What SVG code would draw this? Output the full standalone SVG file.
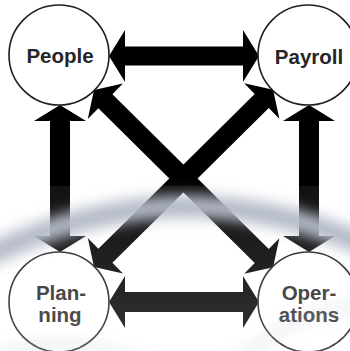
<svg xmlns="http://www.w3.org/2000/svg" width="350" height="351" viewBox="0 0 350 351">
  <defs>
    <style>
      .node circle { fill: #ffffff; stroke: #1e1e1e; stroke-width: 1.6; }
      .node text { font-family: "Liberation Sans", Arial, sans-serif; font-weight: bold; font-size: 20.5px; fill: #262626; text-anchor: middle; }
      .arrow { fill: #000000; }
      .swoosh { fill: none; stroke: #b4bac8; filter: url(#soft); }
    </style>
    <filter id="soft" x="-20%" y="-50%" width="140%" height="200%">
      <feGaussianBlur stdDeviation="7"/>
    </filter>
    <linearGradient id="haze" x1="0" y1="186" x2="0" y2="351" gradientUnits="userSpaceOnUse">
      <stop offset="0" stop-color="#ffffff" stop-opacity="0.07"/>
      <stop offset="1" stop-color="#ffffff" stop-opacity="0.2"/>
    </linearGradient>
    <linearGradient id="bandFade" x1="0" y1="0" x2="350" y2="0" gradientUnits="userSpaceOnUse">
      <stop offset="0" stop-color="#a9b0c2" stop-opacity="0.32"/>
      <stop offset="0.38" stop-color="#a9b0c2" stop-opacity="0.2"/>
      <stop offset="0.52" stop-color="#ffffff" stop-opacity="0.2"/>
      <stop offset="0.66" stop-color="#a9b0c2" stop-opacity="0.22"/>
      <stop offset="1" stop-color="#a9b0c2" stop-opacity="0.32"/>
    </linearGradient>
  </defs>

  <rect width="350" height="351" fill="#ffffff"/>

  <!-- double-headed connectors -->
  <g id="connectors">
    <!-- People <-> Payroll -->
    <path class="arrow" transform="translate(109,56)" d="M0 0 L16 -26 L16 -9.5 L134 -9.5 L134 -26 L150 0 L134 26 L134 9.5 L16 9.5 L16 26 Z"/>
    <!-- Planning <-> Operations -->
    <path class="arrow" transform="translate(109,302)" d="M0 0 L16 -26 L16 -10 L134 -10 L134 -26 L150 0 L134 26 L134 10 L16 10 L16 26 Z"/>
    <!-- People <-> Planning -->
    <path class="arrow" transform="translate(60,105) rotate(90)" d="M0 0 L16 -26 L16 -10 L131 -10 L131 -26 L147 0 L131 26 L131 10 L16 10 L16 26 Z"/>
    <!-- Payroll <-> Operations -->
    <path class="arrow" transform="translate(309,105) rotate(90)" d="M0 0 L16 -26 L16 -10 L131 -10 L131 -26 L147 0 L131 26 L131 10 L16 10 L16 26 Z"/>
    <!-- People <-> Operations -->
    <path class="arrow" transform="translate(94,90) rotate(44.7)" d="M0 0 L16 -25 L16 -10 L236 -10 L236 -25 L252 0 L236 25 L236 10 L16 10 L16 25 Z"/>
    <!-- Planning <-> Payroll -->
    <path class="arrow" transform="translate(94,267) rotate(-44.7)" d="M0 0 L16 -25 L16 -10 L236 -10 L236 -25 L252 0 L236 25 L236 10 L16 10 L16 25 Z"/>
  </g>

  <g id="people" class="node">
    <circle cx="59" cy="55" r="50"/>
    <text x="60" y="63">People</text>
  </g>
  <g id="payroll" class="node">
    <circle cx="308" cy="55" r="50"/>
    <text x="309" y="64">Payroll</text>
  </g>
  <g id="planning" class="node">
    <circle cx="59" cy="302" r="50"/>
    <text x="61" y="300">Plan-</text>
    <text x="60" y="322">ning</text>
  </g>
  <g id="operations" class="node">
    <circle cx="308" cy="302" r="50"/>
    <text x="309" y="300">Oper-</text>
    <text x="309" y="322">ations</text>
  </g>

  <!-- pale backdrop over the lower half -->
  <g id="backdrop">
    <rect x="0" y="186" width="350" height="165" fill="url(#haze)"/>
    <path class="swoosh" d="M-30 265 Q175 155 380 252" stroke="url(#bandFade)" stroke-width="22"/>
    <path class="swoosh" d="M-10 360 Q60 326 140 364" stroke-width="12" stroke-opacity="0.22"/>
    <path class="swoosh" d="M235 364 Q290 310 365 305" stroke-width="12" stroke-opacity="0.2"/>
  </g>
</svg>
